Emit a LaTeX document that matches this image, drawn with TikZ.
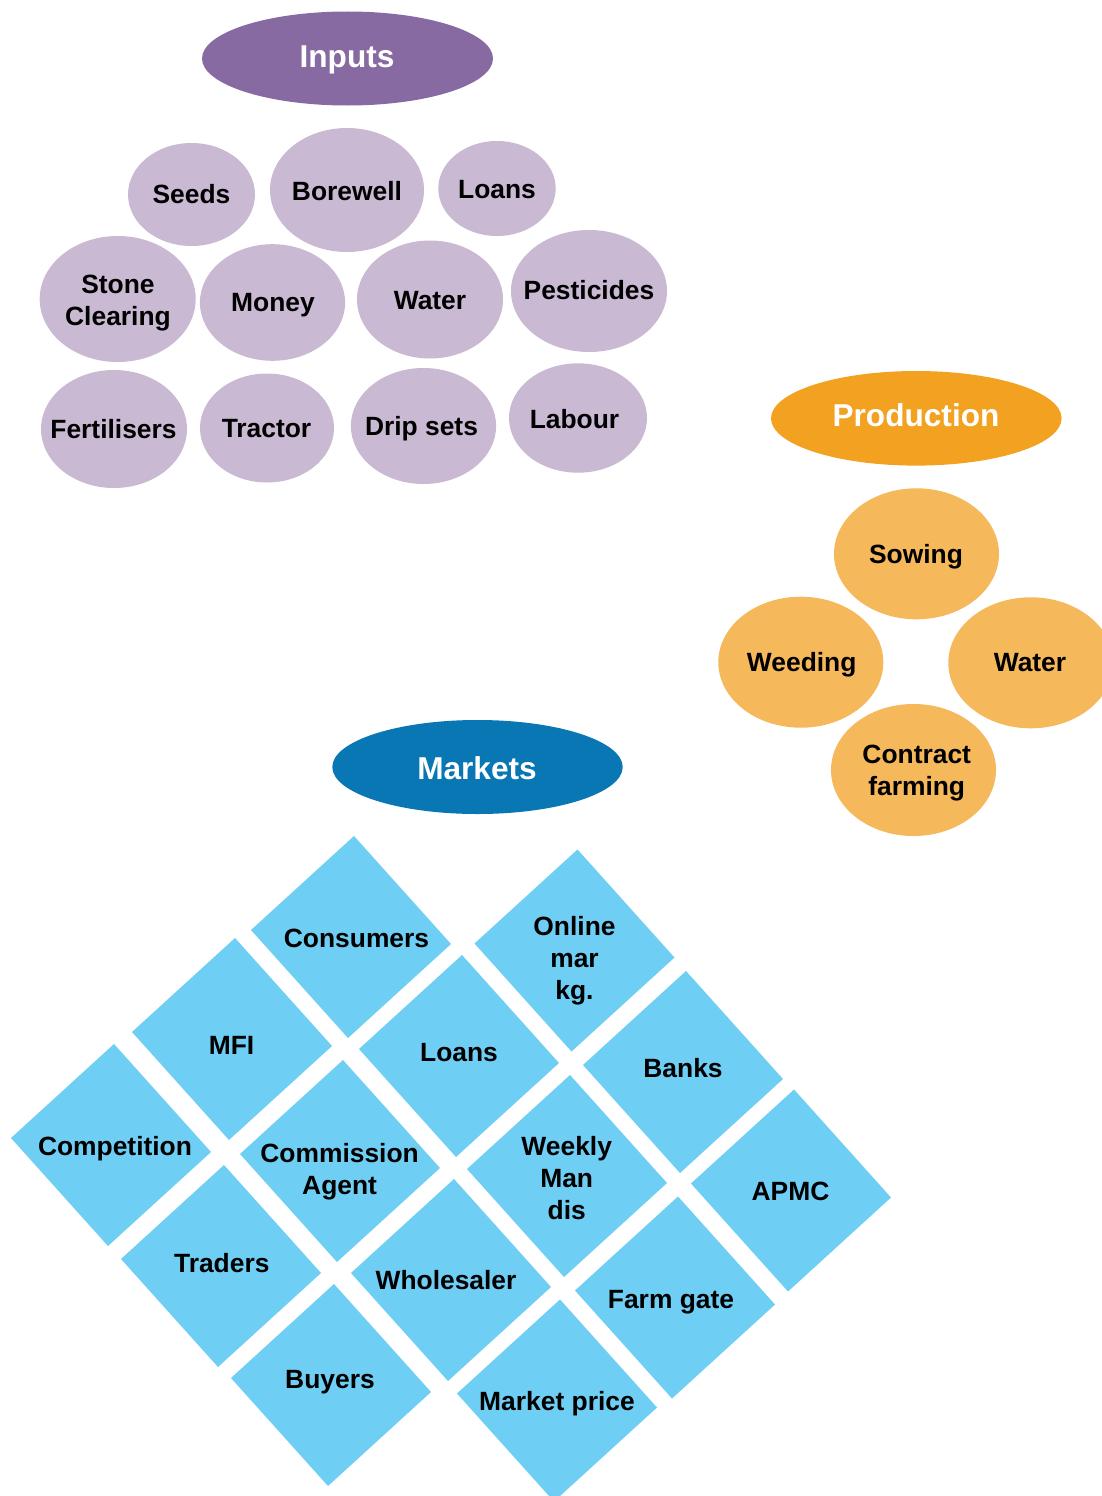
\documentclass[tikz,border=0pt]{standalone}
\usepackage{fontspec}
\setmainfont{Liberation Sans}
\definecolor{inpT}{RGB}{136,106,162}
\definecolor{inpL}{RGB}{201,185,211}
\definecolor{proT}{RGB}{243,161,32}
\definecolor{proL}{RGB}{245,184,90}
\definecolor{mktT}{RGB}{8,119,180}
\definecolor{mktL}{RGB}{110,206,244}
\newcommand\myblob[5]{\fill[#1] (#2,#3) ellipse [x radius=#4pt, y radius=#5pt];}
\newcommand\mydiam[2]{\fill[mktL, shift={(#1,#2)}] (3,-101) -- (100,7) -- (-3,101) -- (-100,-7) -- cycle;}
\begin{document}
\begin{tikzpicture}[x=1pt,y=-1pt,
  lbl/.style={font=\fontsize{26.4}{32}\selectfont\bfseries, align=center, inner sep=0pt, text=black},
  one/.style={text height=18.9pt, text depth=0pt},
  ttl/.style={font=\fontsize{31.6}{38}\selectfont\bfseries, text=white, inner sep=0pt, text height=22.6pt, text depth=0pt}]
\useasboundingbox (0,0) rectangle (1102,1496);
\clip (0,0) rectangle (1102,1496);
\fill[white] (0,0) rectangle (1102,1496);

% ---------- Inputs ----------
\myblob{inpT}{347.5}{58.5}{145.5}{47}
\node[ttl] (tInputs) at (347,56) {Inputs};
\myblob{inpL}{191.5}{194.5}{63.5}{51.5}
\myblob{inpL}{347}{190}{77}{62}
\myblob{inpL}{497}{188.5}{58.7}{47.5}
\myblob{inpL}{117.7}{299}{78}{63}
\myblob{inpL}{272.5}{302.5}{72.6}{58.3}
\myblob{inpL}{430}{299.5}{73}{59}
\myblob{inpL}{589}{291}{78}{61}
\myblob{inpL}{114}{429}{73}{59}
\myblob{inpL}{267}{428}{67}{54.5}
\myblob{inpL}{423.5}{426}{72.6}{58}
\myblob{inpL}{578}{418}{69}{54.7}
\node[lbl,one] (iSeeds) at (191.5,194.5) {Seeds};
\node[lbl,one] (iBorewell) at (347,191) {Borewell};
\node[lbl,one] (iLoans) at (497,189) {Loans};
\node[lbl] (iStone) at (118,303) {Stone\\Clearing};
\node[lbl,one] (iMoney) at (273,302.5) {Money};
\node[lbl,one] (iWater) at (430,300.5) {Water};
\node[lbl,one] (iPest) at (589,290) {Pesticides};
\node[lbl,one] (iFert) at (113.5,429) {Fertilisers};
\node[lbl,one] (iTractor) at (266.5,428) {Tractor};
\node[lbl,one] (iDrip) at (421.5,426) {Drip sets};
\node[lbl,one] (iLabour) at (574.5,419) {Labour};

% ---------- Production ----------
\myblob{proT}{916.3}{418.3}{145.3}{47.3}
\node[ttl] (tProd) at (916,415) {Production};
\myblob{proL}{916.5}{553.8}{82.5}{65.5}
\myblob{proL}{800.8}{662.2}{82.5}{65.5}
\myblob{proL}{1030.8}{662.8}{82.5}{65.5}
\myblob{proL}{913.5}{770}{82.5}{66}
\node[lbl,one] (pSowing) at (916,554.5) {Sowing};
\node[lbl,one] (pWeeding) at (801.7,662) {Weeding};
\node[lbl,one] (pWater) at (1030,662) {Water};
\node[lbl] (pContract) at (916.7,773.5) {Contract\\farming};

% ---------- Markets ----------
\myblob{mktT}{477.5}{767}{145.2}{47}
\node[ttl] (tMkt) at (477,768) {Markets};
\mydiam{351}{937}
\mydiam{574.5}{950.5}
\mydiam{232}{1039}
\mydiam{459}{1056}
\mydiam{683}{1072}
\mydiam{111}{1145}
\mydiam{340}{1161}
\mydiam{567}{1176}
\mydiam{791}{1190.5}
\mydiam{221}{1266}
\mydiam{451}{1280}
\mydiam{675}{1297.5}
\mydiam{331}{1385}
\mydiam{557}{1400.5}
\node[lbl,one] (mConsumers) at (356.5,938) {Consumers};
\node[lbl] (mOnline) at (574.5,961) {Online\\mar\\kg.};
\node[lbl,one] (mMFI) at (231.5,1045) {MFI};
\node[lbl,one] (mLoans) at (459,1052) {Loans};
\node[lbl,one] (mBanks) at (683,1068.5) {Banks};
\node[lbl,one] (mCompetition) at (115,1146) {Competition};
\node[lbl] (mCommission) at (339.6,1171.8) {Commission\\Agent};
\node[lbl] (mWeekly) at (566.7,1178) {Weekly\\Man\\dis};
\node[lbl,one] (mAPMC) at (790.5,1191) {APMC};
\node[lbl,one] (mTraders) at (221.8,1263) {Traders};
\node[lbl,one] (mWholesaler) at (446,1280.5) {Wholesaler};
\node[lbl,one] (mFarm) at (671,1299) {Farm gate};
\node[lbl,one] (mBuyers) at (330,1379.5) {Buyers};
\node[lbl,one] (mPrice) at (557,1401) {Market price};
\end{tikzpicture}
\end{document}
